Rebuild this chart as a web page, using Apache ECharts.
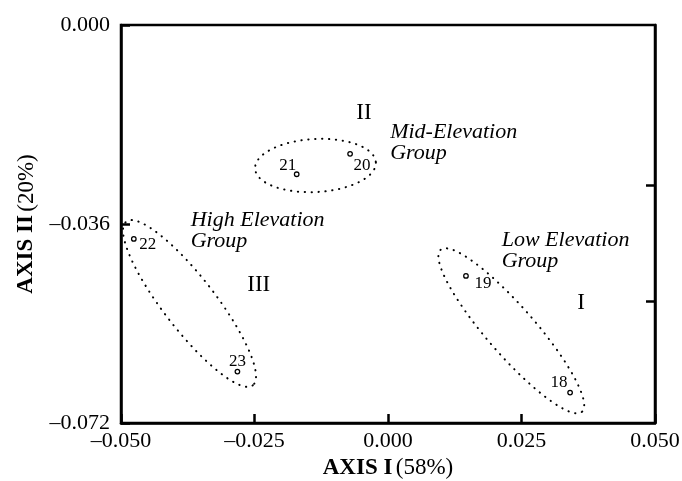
<!DOCTYPE html>
<html>
<head>
<meta charset="utf-8">
<script src="https://cdn.jsdelivr.net/npm/echarts@6/dist/echarts.min.js"></script>
<style>
html,body{margin:0;padding:0;background:#fff;}
#chart{width:682px;height:481px;}
</style>
</head>
<body>
<div id="chart"></div>
<script>
// ---- data ----
const sampleIds = ['18', '19', '20', '21', '22', '23'];
const axisIValues = [0.0341, 0.0146, -0.0071, -0.0171, -0.0476, -0.0282];
const axisIIValues = [-0.0665, -0.0454, -0.0233, -0.0270, -0.0387, -0.0627];

const xTicks = [-0.050, -0.025, 0.000, 0.025, 0.050];
const yTicks = [0.000, -0.036, -0.072];
const rightTicks = [-0.029, -0.050];

// group ellipses: centre (x, y) and two half-axis vectors in axis units
const groupNames = ['Mid-Elevation', 'High Elevation', 'Low Elevation'];
const ellipseCenterX = [-0.01358, -0.03717, 0.02309];
const ellipseCenterY = [-0.02542, -0.05038, -0.05532];
const ellipseMajorX = [0.01131, 0.01185, 0.01323];
const ellipseMajorY = [0.00057, -0.01481, -0.01466];
const ellipseMinorX = [0.00026, -0.00385, -0.00339];
const ellipseMinorY = [-0.00479, -0.00288, -0.00285];

// annotations (axis units)
const groupLabelX = [0.0004, -0.03695, 0.02129];
const groupLabelY = [-0.02126, -0.03727, -0.04092];
const romanLabels = ['II', 'III', 'I'];
const romanX = [-0.00449, -0.02421, 0.03614];
const romanY = [-0.01592, -0.04703, -0.05034];

// ---- styles ----
const serif = '"Liberation Serif", "DejaVu Serif", "Times New Roman", serif';
const ink = '#000';
const labelOffsets = { '18': [-11, -10], '19': [17, 8], '20': [12, 12], '21': [-9, -9], '22': [14, 6], '23': [0, -10] };

const fmt = v => {
  const s = Math.abs(v).toFixed(3);
  return (v < -1e-9 ? '\u2013' : '') + s;
};

const points = sampleIds.map((id, i) => ({
  value: [axisIValues[i], axisIIValues[i]],
  name: id,
  label: { offset: labelOffsets[id] }
}));

const ellipses = groupNames.map((n, i) => [
  ellipseCenterX[i], ellipseCenterY[i],
  ellipseMajorX[i], ellipseMajorY[i],
  ellipseMinorX[i], ellipseMinorY[i]
]);

const groupTexts = groupNames.map((n, i) => ({ value: [groupLabelX[i], groupLabelY[i]], name: n + '\nGroup' }));
const romanTexts = romanLabels.map((r, i) => ({ value: [romanX[i], romanY[i]], name: r }));

const chart = echarts.init(document.getElementById('chart'), null, { renderer: 'canvas' });

const nameRich = {
  b: { fontFamily: serif, fontSize: 23, fontWeight: 'bold', color: ink },
  r: { fontFamily: serif, fontSize: 23, color: ink }
};

chart.setOption({
  backgroundColor: '#fff',
  animation: false,
  grid: {
    left: 121, right: 27, top: 25, bottom: 58,
    outerBoundsMode: 'none',
    containLabel: false,
    show: true, borderColor: ink, borderWidth: 2.5, backgroundColor: 'transparent'
  },
  xAxis: {
    type: 'value',
    min: xTicks[0], max: xTicks[xTicks.length - 1], interval: 0.025,
    name: '{b|AXIS I} {r|(58%)}',
    nameLocation: 'middle', nameGap: 19,
    nameTextStyle: { rich: nameRich },
    axisLine: { show: true, onZero: false, lineStyle: { color: ink, width: 2.5 } },
    axisTick: { show: true, inside: true, length: 9, lineStyle: { color: ink, width: 2.5 } },
    axisLabel: { fontFamily: serif, fontSize: 22, color: ink, margin: 7, formatter: fmt },
    splitLine: { show: false }
  },
  yAxis: [{
    type: 'value',
    min: yTicks[2], max: yTicks[0], interval: 0.036,
    name: '{b|AXIS II} {r|(20%)}',
    nameLocation: 'middle', nameGap: 83,
    nameTextStyle: { rich: nameRich },
    axisLine: { show: true, onZero: false, lineStyle: { color: ink, width: 2.5 } },
    axisTick: { show: true, inside: true, length: 9, lineStyle: { color: ink, width: 2.5 } },
    axisLabel: { fontFamily: serif, fontSize: 22, color: ink, margin: 11, formatter: fmt },
    splitLine: { show: false }
  }, {
    type: 'value', position: 'right',
    min: yTicks[2], max: yTicks[0],
    axisLine: { show: true, onZero: false, lineStyle: { color: ink, width: 2.5 } },
    axisTick: { show: true, inside: true, length: 9, customValues: rightTicks, lineStyle: { color: ink, width: 2.5 } },
    axisLabel: { show: false },
    splitLine: { show: false }
  }],
  series: [
    {
      type: 'custom',
      coordinateSystem: 'cartesian2d',
      clip: false,
      silent: true,
      data: ellipses,
      encode: { x: 0, y: 1 },
      renderItem: function (params, api) {
        const cx = api.value(0), cy = api.value(1);
        const ux = api.value(2), uy = api.value(3);
        const vx = api.value(4), vy = api.value(5);
        const pts = [];
        const N = 120;
        for (let k = 0; k < N; k++) {
          const t = 2 * Math.PI * k / N;
          const c = Math.cos(t), s = Math.sin(t);
          pts.push(api.coord([cx + ux * c + vx * s, cy + uy * c + vy * s]));
        }
        return {
          type: 'polygon',
          shape: { points: pts },
          style: { fill: 'none', stroke: ink, lineWidth: 2, lineDash: [0.3, 6.6], lineCap: 'round' }
        };
      }
    },
    {
      type: 'scatter',
      data: points,
      symbol: 'circle',
      symbolSize: 4.5,
      itemStyle: { color: '#fff', borderColor: ink, borderWidth: 1.3, opacity: 1 },
      label: {
        show: true, position: 'inside', formatter: '{b}', opacity: 1,
        fontFamily: serif, fontSize: 17, color: ink
      },
      z: 5
    },
    {
      type: 'scatter',
      data: groupTexts,
      symbolSize: 0,
      silent: true,
      itemStyle: { opacity: 1 },
      label: {
        show: true, position: [0, 0], align: 'left', verticalAlign: 'middle', opacity: 1,
        formatter: '{b}', fontFamily: serif, fontStyle: 'italic', fontSize: 22,
        lineHeight: 21, color: ink
      }
    },
    {
      type: 'scatter',
      data: romanTexts,
      symbolSize: 0,
      silent: true,
      itemStyle: { opacity: 1 },
      label: {
        show: true, position: [0, 0], align: 'center', verticalAlign: 'middle', opacity: 1,
        formatter: '{b}', fontFamily: serif, fontSize: 23, color: ink
      }
    }
  ]
});
</script>
</body>
</html>
